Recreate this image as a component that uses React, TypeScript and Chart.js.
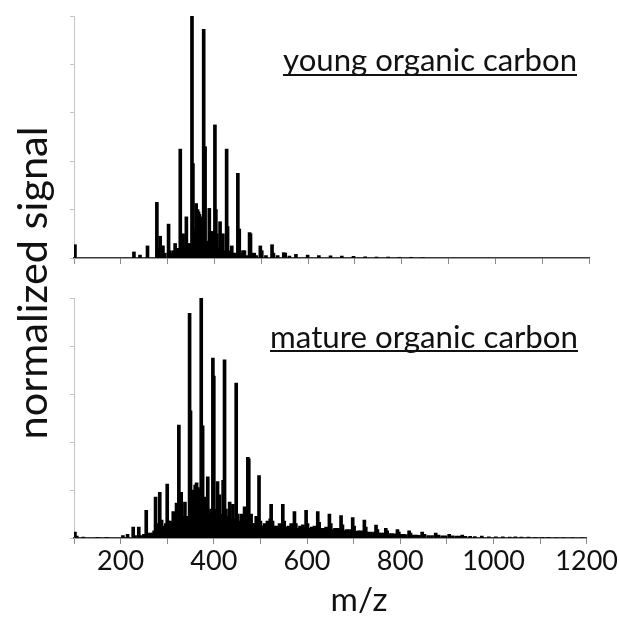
import React, { useEffect, useRef } from 'react';
import { Chart, registerables } from 'chart.js';

Chart.register(...registerables);

const FONT = 'Lato, "Open Sans", "DejaVu Sans", sans-serif';

// ---------- data ----------
const youngMz = [
  102, 228, 241, 257, 277, 280, 284, 287, 290, 294, 302, 305, 309, 313, 316, 321, 324,
  327, 330, 333, 336, 340, 342, 345, 348, 352, 354, 357, 361, 364, 366, 368, 370, 372,
  374, 377, 380, 383, 386, 389, 392, 395, 398, 401, 403, 405, 408, 412, 415, 418, 421,
  426, 428, 431, 434, 437, 441, 444, 450, 453, 456, 461, 464, 468, 475, 477, 480, 485,
  489, 498, 501, 510, 523, 526, 535, 548, 551, 560, 574, 599, 623, 648, 672, 697, 722,
  746, 771, 795, 820, 845,
];
const youngSignal = [
  0.055, 0.025, 0.012, 0.05, 0.23, 0.04, 0.09, 0.05, 0.05, 0.02, 0.14, 0.03, 0.02, 0.03, 0.06, 0.04, 0.03,
  0.45, 0.08, 0.1, 0.04, 0.17, 0.06, 0.05, 0.06, 1.0, 0.39, 0.12, 0.225, 0.2, 0.19, 0.18, 0.17, 0.15,
  0.1, 0.945, 0.46, 0.07, 0.06, 0.205, 0.07, 0.11, 0.04, 0.55, 0.2, 0.1, 0.04, 0.15, 0.06, 0.1, 0.03,
  0.45, 0.13, 0.03, 0.02, 0.05, 0.02, 0.02, 0.35, 0.12, 0.02, 0.03, 0.03, 0.01, 0.105, 0.1, 0.02, 0.02,
  0.01, 0.05, 0.03, 0.01, 0.055, 0.02, 0.01, 0.022, 0.02, 0.008, 0.015, 0.012, 0.01, 0.009, 0.008, 0.007, 0.005,
  0.004, 0.004, 0.003, 0.003, 0.002,
];

const matureMz = [
  102, 106, 120, 150, 170, 205, 215, 227, 231, 239, 243, 250, 255, 258, 262, 265, 268, 272,
  275, 278, 280, 284, 288, 291, 294, 297, 300, 303, 306, 309, 313, 316, 320, 322, 325, 327,
  330, 333, 335, 338, 341, 344, 348, 350, 352, 354, 357, 360, 363, 366, 369, 373, 376, 378,
  380, 384, 387, 390, 394, 396, 398, 400, 403, 406, 408, 412, 415, 418, 420, 423, 426, 429,
  431, 434, 437, 441, 444, 448, 451, 454, 456, 459, 462, 466, 469, 473, 475, 478, 480, 483,
  486, 488, 491, 494, 497, 500, 503, 506, 509, 512, 515, 518, 521, 523, 526, 529, 532, 535,
  538, 541, 544, 548, 551, 554, 557, 560, 563, 566, 569, 573, 576, 579, 582, 585, 588, 591,
  594, 598, 601, 604, 607, 610, 613, 616, 619, 623, 626, 629, 632, 635, 638, 641, 644, 648,
  651, 654, 657, 660, 663, 666, 669, 673, 676, 679, 682, 685, 688, 691, 694, 698, 701, 704,
  707, 710, 713, 716, 719, 723, 726, 729, 732, 736, 740, 744, 748, 751, 755, 760, 765, 769,
  772, 777, 782, 787, 794, 797, 802, 807, 812, 819, 822, 828, 835, 840, 847, 852, 860, 868,
  876, 882, 890, 897, 905, 912, 920, 927, 933, 940, 950, 960, 975, 990, 1005, 1020, 1035,
  1047, 1060, 1075, 1090, 1105, 1118, 1135, 1150, 1170, 1190,
];
const matureSignal = [
  0.025, 0.008, 0.004, 0.003, 0.003, 0.01, 0.015, 0.045, 0.01, 0.045, 0.01, 0.015, 0.115, 0.02, 0.015, 0.02, 0.02, 0.03,
  0.17, 0.04, 0.06, 0.19, 0.075, 0.04, 0.05, 0.06, 0.225, 0.07, 0.07, 0.06, 0.11, 0.06, 0.145, 0.08, 0.47, 0.12,
  0.19, 0.09, 0.07, 0.15, 0.09, 0.08, 0.936, 0.53, 0.12, 0.075, 0.2, 0.22, 0.23, 0.21, 0.2, 1.0, 0.467, 0.12,
  0.17, 0.1, 0.255, 0.1, 0.12, 0.08, 0.75, 0.675, 0.12, 0.1, 0.235, 0.18, 0.1, 0.09, 0.24, 0.742, 0.12, 0.08,
  0.09, 0.15, 0.08, 0.14, 0.08, 0.645, 0.1, 0.07, 0.07, 0.1, 0.06, 0.13, 0.06, 0.336, 0.33, 0.07, 0.1, 0.06,
  0.06, 0.05, 0.09, 0.06, 0.26, 0.07, 0.05, 0.05, 0.06, 0.05, 0.07, 0.05, 0.08, 0.14, 0.07, 0.05, 0.045, 0.05,
  0.045, 0.06, 0.05, 0.14, 0.07, 0.045, 0.04, 0.05, 0.04, 0.06, 0.045, 0.11, 0.06, 0.04, 0.04, 0.05, 0.04, 0.055,
  0.045, 0.115, 0.06, 0.04, 0.035, 0.045, 0.04, 0.05, 0.045, 0.11, 0.065, 0.04, 0.035, 0.04, 0.035, 0.045, 0.04, 0.1,
  0.06, 0.035, 0.03, 0.04, 0.035, 0.04, 0.035, 0.093, 0.055, 0.03, 0.03, 0.035, 0.03, 0.035, 0.03, 0.085, 0.05, 0.028,
  0.025, 0.03, 0.025, 0.03, 0.027, 0.075, 0.045, 0.025, 0.022, 0.025, 0.022, 0.025, 0.054, 0.035, 0.02, 0.02, 0.02, 0.04,
  0.03, 0.018, 0.018, 0.017, 0.035, 0.025, 0.015, 0.015, 0.014, 0.03, 0.02, 0.012, 0.012, 0.011, 0.025, 0.015, 0.01, 0.01,
  0.02, 0.012, 0.009, 0.009, 0.015, 0.009, 0.008, 0.008, 0.012, 0.007, 0.007, 0.006, 0.008, 0.005, 0.005, 0.005, 0.004,
  0.005, 0.004, 0.004, 0.003, 0.003, 0.003, 0.002, 0.002, 0.002, 0.002,
];

const xLabeledTicks = [200, 400, 600, 800, 1000, 1200];
const xMin = 100;
const xMax = 1200;
const youngTitle = 'young organic carbon';
const matureTitle = 'mature organic carbon';
const yTitle = 'normalized signal';
const xTitle = 'm/z';

// ---------- helpers ----------
function fittedFont(ctx: CanvasRenderingContext2D, text: string, width: number) {
  ctx.font = `100px ${FONT}`;
  const w = ctx.measureText(text).width;
  return (100 * width) / w;
}

function textPlugin(id: string, items: Array<{ text: string; x: number; y: number; width: number; align: CanvasTextAlign; rotate?: boolean; underline?: number }>) {
  return {
    id,
    afterDraw(chart: any) {
      const ctx: CanvasRenderingContext2D = chart.ctx;
      for (const it of items) {
        ctx.save();
        const size = fittedFont(ctx, it.text, it.width);
        ctx.font = `${size}px ${FONT}`;
        ctx.fillStyle = '#111';
        ctx.textBaseline = 'alphabetic';
        ctx.textAlign = it.align;
        if (it.rotate) {
          ctx.translate(it.x, it.y);
          ctx.rotate(-Math.PI / 2);
          ctx.fillText(it.text, 0, 0);
        } else {
          ctx.fillText(it.text, it.x, it.y);
          if (it.underline !== undefined) {
            const left = it.align === 'right' ? it.x - it.width : it.x;
            ctx.fillRect(left, it.underline, it.width, 2);
          }
        }
        ctx.restore();
      }
    },
  };
}

function makeConfig(mz: number[], signal: number[], opts: { padTop: number; padBottom: number; xHeight: number; labels: boolean; plugins: any[] }) {
  return {
    type: 'bar' as const,
    data: {
      datasets: [
        {
          data: mz.map((m, i) => ({ x: m, y: signal[i] })),
          backgroundColor: '#000',
          borderWidth: 0,
          barThickness: 3,
        },
      ],
    },
    options: {
      responsive: false,
      maintainAspectRatio: false,
      animation: false,
      layout: { padding: { top: opts.padTop, bottom: opts.padBottom, left: 0, right: 30 } },
      plugins: { legend: { display: false }, tooltip: { enabled: false }, title: { display: false } },
      scales: {
        x: {
          type: 'linear',
          min: xMin,
          max: xMax,
          offset: false,
          afterFit: (s: any) => {
            s.height = opts.xHeight;
          },
          border: { display: true, color: '#3a3a3a', width: 1.5 },
          grid: { display: true, drawOnChartArea: false, drawTicks: true, tickLength: 6, color: '#8a8a8a', offset: false },
          ticks: {
            stepSize: 100,
            autoSkip: false,
            maxRotation: 0,
            padding: 1,
            color: '#111',
            font: { family: FONT, size: 27 },
            callback: (v: any) => (opts.labels && xLabeledTicks.includes(Number(v)) ? String(v) : ''),
          },
        },
        y: {
          min: 0,
          max: 1,
          afterFit: (s: any) => {
            s.width = 74;
          },
          border: { display: true, color: '#c4c4c4', width: 1 },
          grid: { display: true, drawOnChartArea: false, drawTicks: true, tickLength: 4, color: '#c4c4c4' },
          ticks: { stepSize: 0.2, callback: () => '' },
        },
      },
    },
    plugins: opts.plugins,
  };
}

export default function App() {
  const topRef = useRef<HTMLCanvasElement>(null);
  const botRef = useRef<HTMLCanvasElement>(null);

  useEffect(() => {
    Chart.defaults.font.family = FONT;
    const top = new Chart(
      topRef.current as HTMLCanvasElement,
      makeConfig(youngMz, youngSignal, {
        padTop: 16,
        padBottom: 617 - 258 - 10,
        xHeight: 10,
        labels: false,
        plugins: [
          textPlugin('youngLabels', [
            { text: youngTitle, x: 577, y: 71, width: 294, align: 'right', underline: 74 },
            { text: yTitle, x: 47, y: 283, width: 313, align: 'center', rotate: true },
          ]),
        ],
      }) as any
    );
    const bot = new Chart(
      botRef.current as HTMLCanvasElement,
      makeConfig(matureMz, matureSignal, {
        padTop: 298,
        padBottom: 0,
        xHeight: 617 - 538,
        labels: true,
        plugins: [
          textPlugin('matureLabels', [
            { text: matureTitle, x: 578, y: 348, width: 308, align: 'right', underline: 350 },
            { text: xTitle, x: 359, y: 611, width: 57, align: 'center' },
          ]),
        ],
      }) as any
    );
    return () => {
      top.destroy();
      bot.destroy();
    };
  }, []);

  return (
    <div style={{ position: 'fixed', left: 0, top: 0, width: 619, height: 617, background: '#fff' }}>
      <canvas ref={botRef} width={619} height={617} style={{ position: 'absolute', left: 0, top: 0 }} />
      <canvas ref={topRef} width={619} height={617} style={{ position: 'absolute', left: 0, top: 0 }} />
    </div>
  );
}
